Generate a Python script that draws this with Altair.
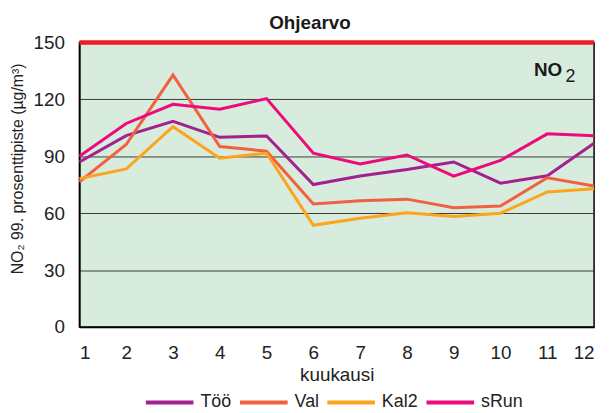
import altair as alt
import pandas as pd

months = list(range(1, 13))
series_names = ["Töö", "Val", "Kal2", "sRun"]
series_colors = ["#A3218F", "#F1603F", "#FBA41C", "#EC0A7C"]
too = [87, 100.9, 108.4, 100, 100.7, 75.1, 79.6, 83.0, 87, 75.8, 79.7, 96.9]
val = [76.5, 96.2, 132.8, 95.1, 92.7, 64.8, 66.6, 67.4, 62.9, 63.8, 78.7, 74.3]
kal2 = [78.2, 83.3, 105.6, 89, 91.6, 53.6, 57.3, 60.2, 58.2, 60.0, 71.2, 72.9]
srun = [90, 107.3, 117.4, 114.8, 120.4, 91.6, 86.0, 90.7, 79.5, 87.8, 101.8, 100.8]
limit_value = [150]
y_ticks = [0, 30, 60, 90, 120, 150]

rows = []
for name, vals in zip(series_names, [too, val, kal2, srun]):
    for m, v in zip(months, vals):
        rows.append({"month": m, "value": v, "series": name})
df = pd.DataFrame(rows)

font = "Liberation Sans"

x_enc = alt.X("month:Q", scale=alt.Scale(domain=[1, 12], nice=False, zero=False),
              axis=alt.Axis(values=months, title="kuukausi", ticks=False, tickSize=0,
                            labelPadding=17, titlePadding=3, grid=False,
                            domainColor="black", domainWidth=1.5))
y_enc = alt.Y("value:Q", scale=alt.Scale(domain=[0, 150], nice=False),
              axis=alt.Axis(values=y_ticks, title="NO₂ 99. prosenttipiste  (µg/m³)",
                            ticks=False, tickSize=0, labelPadding=15, grid=True,
                            gridColor="#3a3a3a", gridWidth=1, domainColor="black",
                            domainWidth=1.5, titleX=-62, titleY=127,
                            titleBaseline="middle", titleFontSize=16))

lines = alt.Chart(df).mark_line(strokeWidth=3).encode(
    x=x_enc,
    y=y_enc,
    color=alt.Color("series:N",
                    scale=alt.Scale(domain=series_names, range=series_colors),
                    sort=series_names,
                    legend=alt.Legend(title=None, orient="none", direction="horizontal",
                                      legendX=65, legendY=337, symbolType="stroke",
                                      symbolSize=2304, symbolStrokeWidth=4,
                                      labelFontSize=18, labelOffset=5,
                                      columnPadding=0, labelColor="#222222")),
)

limit = alt.Chart(pd.DataFrame({"v": limit_value})).mark_rule(
    color="#ED1C24", strokeWidth=4.5).encode(y="v:Q")

ann = pd.DataFrame({"month": [11.32, 11.39], "value": [132.2, 129.0], "t": ["NO", "2"]})
no_txt = alt.Chart(ann.iloc[[0]]).mark_text(
    align="right", baseline="alphabetic", fontSize=19, fontWeight="bold",
    font=font, color="#1a1a1a").encode(x="month:Q", y="value:Q", text="t:N")
two_txt = alt.Chart(ann.iloc[[1]]).mark_text(
    align="left", baseline="alphabetic", fontSize=18,
    font=font, color="#1a1a1a").encode(x="month:Q", y="value:Q", text="t:N")

chart = alt.layer(lines, limit, no_txt, two_txt).properties(
    width=519, height=287,
    title=alt.TitleParams("Ohjearvo", anchor="middle", dx=-27, fontSize=19,
                          fontWeight="bold", font=font, color="#1a1a1a", offset=1),
    autosize=alt.AutoSizeParams(type="none"),
    padding={"left": 72, "top": 33, "right": 10, "bottom": 88},
).configure_view(
    fill="#D8ECDD", stroke="black", strokeWidth=1.5
).configure_axis(
    labelFont=font, titleFont=font, labelFontSize=19, titleFontSize=19,
    labelColor="#222222", titleColor="#222222", titleFontWeight="normal"
).configure_legend(
    labelFont=font
)

chart.save("out.html", embed_options={"renderer": "svg", "actions": False})
